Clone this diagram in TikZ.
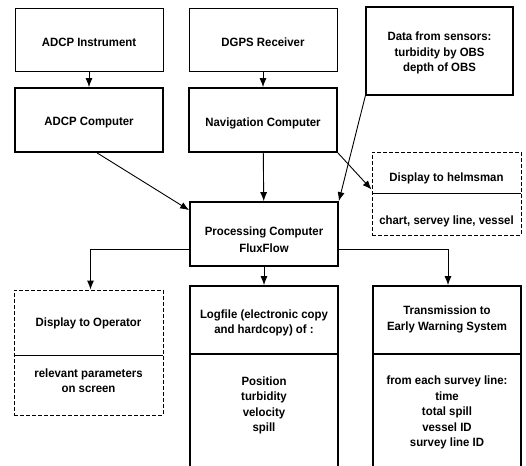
\documentclass[tikz,border=0pt]{standalone}
\usepackage{fontspec}
\setmainfont{Liberation Sans}[FakeStretch=0.95]
\usetikzlibrary{arrows.meta}

\begin{document}
\begin{tikzpicture}
[every node/.style={inner sep=0pt},
 box/.style={rectangle, line width=0.9pt, draw=black},
 heavybox/.style={rectangle, line width=1.7pt, draw=black},
 dashbox/.style={rectangle, line width=0.9pt, draw=black, dash pattern=on 4pt off 2pt},
 txt/.style={align=center, font=\fontsize{12}{15.5}\selectfont\bfseries},
 flow/.style={line width=0.9pt, -{Latex[length=9pt, width=7pt]}}]
\useasboundingbox (0pt, 0pt) rectangle (526pt, -465pt);
\clip (0pt, 0pt) rectangle (526pt, -465pt);
% sources
\node (adcpinst) [box, minimum width=148pt, minimum height=63pt] at (89pt, -39.5pt) {};
\node (dgps) [box, minimum width=148pt, minimum height=63pt] at (263pt, -39.5pt) {};
\node (sensors) [box, line width=1.2pt, minimum width=147pt, minimum height=88pt] at (439.5pt, -51pt) {};
\node (adcpcomp) [heavybox, minimum width=148pt, minimum height=64pt] at (89pt, -120pt) {};
\node (navcomp) [heavybox, minimum width=148pt, minimum height=64pt] at (263pt, -120pt) {};
\node [txt] at (89pt, -42pt) {ADCP Instrument};
\node [txt] at (263pt, -42pt) {DGPS Receiver};
\node [txt] at (439.5pt, -53pt) {Data from sensors:\\turbidity by OBS\\depth of OBS};
\node [txt] at (89pt, -123pt) {ADCP Computer};
\node [txt] at (263pt, -123pt) {Navigation Computer};
% helmsman display
\node (helm) [dashbox, minimum width=149pt, minimum height=83pt] at (446.5pt, -193.5pt) {};
\draw [line width=0.9pt] (helm.west) -- (helm.east);
\node [txt] at (446.5pt, -178pt) {Display to helmsman};
\node [txt] at (446.5pt, -221pt) {chart, servey line, vessel};
% processing
\node (proc) [heavybox, minimum width=148pt, minimum height=64pt] at (264pt, -234pt) {};
\node [txt, font=\fontsize{12}{17}\selectfont\bfseries] at (264pt, -240pt) {Processing Computer\\FluxFlow};
% outputs
\node (operator) [dashbox, minimum width=149pt, minimum height=125pt] at (88.5pt, -352.5pt) {};
\draw [line width=0.9pt] (operator.west |- 0pt, -355pt) -- (operator.east |- 0pt, -355pt);
\node [txt] at (88.5pt, -323pt) {Display to Operator};
\node [txt] at (88.5pt, -380.5pt) {relevant parameters\\on screen};
\node (logfile) [heavybox, minimum width=148pt, minimum height=194pt] at (264pt, -383pt) {};
\draw [line width=1.2pt] (logfile.west |- 0pt, -354pt) -- (logfile.east |- 0pt, -354pt);
\node [txt] at (264pt, -323pt) {Logfile (electronic copy\\and hardcopy) of :};
\node [txt] at (264pt, -405.5pt) {Position\\turbidity\\velocity\\spill};
\node (trans) [heavybox, minimum width=148pt, minimum height=194pt] at (447pt, -383pt) {};
\draw [line width=1.2pt] (trans.west |- 0pt, -354pt) -- (trans.east |- 0pt, -354pt);
\node [txt] at (447pt, -319.5pt) {Transmission to\\Early Warning System};
\node [txt] at (447pt, -412.5pt) {from each survey line:\\time\\total spill\\vessel ID\\survey line ID};
% connectors
\draw [flow] (adcpinst) to (adcpcomp);
\draw [flow] (dgps) to (navcomp);
\draw [flow] ([xshift=8pt]adcpcomp.south) to ([yshift=-9pt]proc.north west);
\draw [flow] (navcomp) to (proc);
\draw [flow] (sensors.south west) to (proc.north east);
\draw [flow] (navcomp.south east) to ([yshift=4pt]helm.west);
\draw [flow] ([yshift=-15pt]proc.west) -| ([xshift=2pt]operator.north);
\draw [flow] (proc) to (logfile);
\draw [flow] ([yshift=-15pt]proc.east) -| ([xshift=1pt]trans.north);
\end{tikzpicture}
\end{document}
